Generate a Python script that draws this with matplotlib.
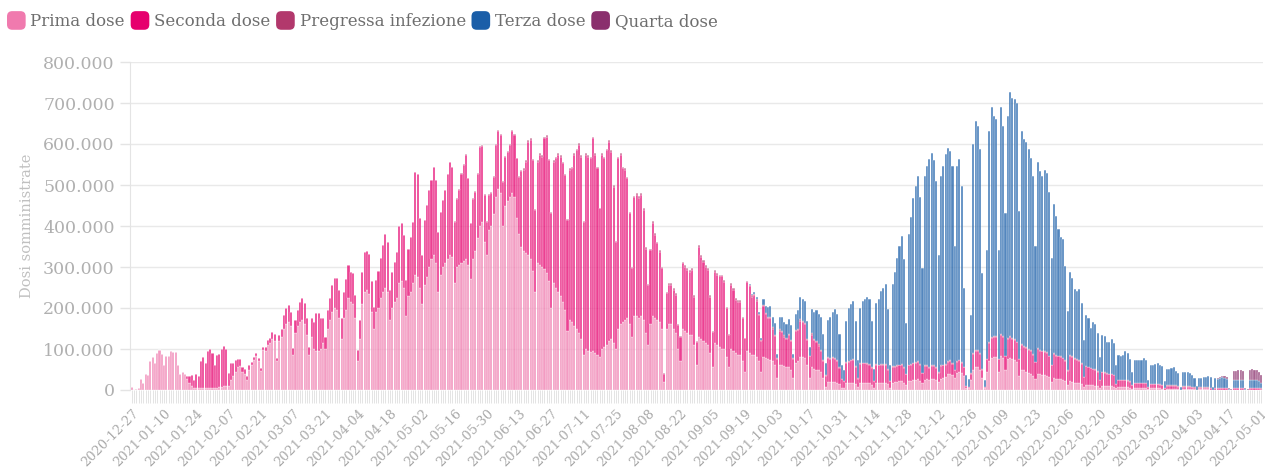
import datetime as dt

import matplotlib

matplotlib.use("Agg")

import matplotlib.pyplot as plt
import numpy as np
from matplotlib.legend_handler import HandlerPatch
from matplotlib.patches import FancyBboxPatch, Patch
from matplotlib.ticker import FuncFormatter, MultipleLocator

START_DATE = dt.date(2020, 12, 27)

# daily doses (thousands), one row per week, Sunday..Saturday
PRIMA_WEEKS = [
    [7, 1, 2, 5, 27, 16, 38], [37, 70, 81, 65, 90, 97, 88],
    [61, 83, 83, 95, 93, 92, 61], [38, 45, 38, 28, 18, 10, 6],
    [5, 4, 5, 6, 5, 6, 6], [5, 4, 6, 7, 8, 9, 9],
    [10, 25, 35, 45, 55, 58, 45], [40, 25, 50, 60, 72, 82, 70],
    [47, 97, 96, 110, 114, 125, 120], [70, 120, 130, 150, 160, 165, 155],
    [85, 140, 155, 165, 170, 160, 135], [85, 130, 100, 95, 95, 100, 115],
    [100, 150, 170, 190, 200, 195, 175], [125, 175, 195, 225, 215, 210, 175],
    [70, 125, 210, 240, 245, 235, 190], [150, 190, 200, 225, 240, 250, 240],
    [170, 200, 215, 225, 260, 265, 250], [180, 230, 240, 260, 280, 275, 250],
    [210, 255, 275, 300, 320, 330, 310], [240, 280, 300, 310, 320, 330, 325],
    [260, 300, 305, 310, 315, 320, 305], [270, 320, 340, 370, 400, 410, 360],
    [330, 390, 400, 430, 470, 490, 480], [400, 450, 460, 470, 480, 470, 420],
    [380, 350, 340, 335, 330, 320, 290], [240, 310, 305, 300, 295, 285, 265],
    [200, 260, 250, 240, 230, 215, 195], [145, 170, 165, 155, 150, 140, 125],
    [85, 100, 95, 92, 95, 90, 85], [80, 100, 105, 110, 120, 125, 115],
    [100, 150, 160, 165, 170, 175, 160], [130, 180, 180, 175, 180, 170, 140],
    [110, 160, 180, 175, 170, 165, 150], [20, 150, 160, 160, 150, 140, 100],
    [70, 150, 145, 140, 135, 135, 110], [60, 130, 125, 120, 115, 110, 90],
    [55, 115, 110, 105, 100, 100, 80], [55, 100, 95, 90, 85, 85, 70],
    [45, 95, 90, 85, 85, 80, 70], [45, 80, 78, 75, 72, 70, 60],
    [30, 62, 60, 58, 57, 57, 50], [30, 65, 70, 80, 80, 78, 60],
    [30, 55, 52, 50, 48, 45, 30], [8, 20, 20, 20, 19, 18, 14],
    [6, 6, 17, 18, 18, 18, 14], [7, 17, 17, 17, 17, 16, 13],
    [6, 17, 17, 18, 18, 18, 14], [6, 18, 19, 20, 21, 22, 18],
    [12, 22, 23, 24, 25, 26, 22], [16, 25, 26, 24, 27, 27, 24],
    [20, 28, 30, 32, 38, 40, 36], [30, 42, 45, 42, 35, 6, 5],
    [25, 50, 55, 55, 50, 30, 4], [45, 70, 78, 80, 80, 45, 82],
    [78, 50, 75, 78, 75, 72, 68], [35, 50, 48, 45, 42, 40, 35],
    [28, 40, 38, 37, 36, 35, 32], [20, 30, 28, 27, 26, 25, 22],
    [12, 22, 20, 18, 17, 16, 14], [7, 13, 12, 11, 11, 10, 9],
    [5, 10, 10, 9, 9, 9, 8], [4, 7, 7, 7, 7, 7, 6],
    [3, 5, 5, 5, 5, 5, 5], [2, 4, 4, 4, 4, 4, 3],
    [1, 3, 3, 3, 3, 3, 2], [0, 2, 2, 2, 2, 2, 2],
    [0, 2, 2, 2, 2, 2, 1], [0, 1, 1, 1, 1, 1, 1],
    [0, 0, 1, 1, 1, 1, 1], [0, 0, 1, 1, 1, 1, 1],
    [1],
]

SECONDA_WEEKS = [
    [0, 0, 0, 0, 0, 0, 0], [0, 0, 0, 0, 0, 0, 0],
    [0, 0, 0, 0, 0, 0, 0], [0, 0, 2, 7, 15, 27, 18],
    [33, 29, 65, 75, 60, 90, 93], [86, 57, 79, 80, 92, 99, 92],
    [32, 40, 32, 28, 21, 17, 12], [11, 8, 11, 9, 9, 9, 7],
    [6, 9, 10, 12, 14, 16, 16], [7, 14, 20, 33, 39, 42, 36],
    [17, 31, 40, 50, 54, 51, 40], [21, 45, 67, 92, 92, 75, 60],
    [30, 45, 54, 66, 72, 77, 69], [50, 65, 75, 81, 74, 75, 57],
    [28, 46, 79, 97, 94, 96, 75], [53, 78, 90, 98, 114, 130, 122],
    [74, 89, 98, 112, 141, 142, 128], [88, 115, 134, 150, 251, 253, 169],
    [119, 160, 176, 188, 192, 215, 202], [146, 155, 163, 178, 208, 225, 220],
    [150, 167, 183, 218, 235, 253, 211], [137, 147, 144, 158, 193, 186, 115],
    [80, 85, 80, 90, 128, 142, 142], [108, 119, 121, 128, 152, 152, 145],
    [140, 183, 197, 222, 276, 290, 271], [199, 247, 268, 269, 319, 333, 296],
    [231, 297, 315, 333, 339, 338, 329], [270, 367, 376, 418, 435, 458, 444],
    [325, 473, 474, 473, 519, 483, 456], [363, 473, 460, 475, 486, 456, 381],
    [262, 415, 413, 376, 367, 341, 271], [167, 290, 296, 293, 296, 270, 205],
    [146, 181, 227, 203, 188, 172, 147], [20, 86, 96, 96, 94, 92, 59],
    [60, 159, 155, 153, 154, 158, 118], [58, 220, 200, 193, 185, 183, 138],
    [87, 174, 171, 172, 177, 164, 119], [79, 156, 149, 130, 130, 130, 105],
    [81, 169, 164, 143, 146, 138, 112], [75, 125, 107, 101, 103, 80, 72],
    [45, 83, 82, 72, 67, 76, 70], [45, 78, 76, 89, 85, 82, 62],
    [52, 80, 70, 66, 60, 50, 40], [27, 57, 55, 57, 56, 53, 40],
    [20, 15, 50, 51, 54, 55, 43], [21, 47, 48, 48, 47, 46, 40],
    [15, 44, 43, 44, 43, 43, 35], [15, 38, 38, 39, 39, 40, 36],
    [26, 38, 38, 41, 42, 43, 40], [25, 33, 33, 30, 32, 32, 30],
    [22, 30, 30, 30, 30, 30, 27], [18, 26, 27, 25, 20, 4, 3],
    [15, 38, 40, 40, 38, 20, 3], [30, 45, 50, 50, 50, 30, 52],
    [52, 32, 50, 52, 50, 50, 48], [40, 60, 58, 57, 56, 55, 50],
    [40, 60, 58, 57, 56, 55, 50], [40, 58, 56, 55, 54, 52, 48],
    [35, 62, 60, 58, 56, 55, 50], [25, 45, 44, 42, 40, 40, 36],
    [20, 33, 32, 31, 30, 30, 28], [10, 17, 17, 17, 17, 16, 14],
    [8, 12, 12, 12, 12, 12, 11], [5, 10, 10, 10, 10, 9, 9],
    [4, 7, 7, 7, 7, 7, 6], [1, 6, 6, 6, 6, 5, 4],
    [1, 4, 4, 4, 4, 4, 4], [1, 4, 4, 4, 4, 4, 4],
    [1, 0, 3, 3, 3, 3, 3], [1, 0, 3, 3, 3, 3, 3],
    [2],
]

PREGRESSA_FROM_WEEK = 20
PREGRESSA_WEEKS = [
    [1, 2, 2, 2, 2, 2, 2], [1, 2, 2, 2, 2, 2, 2],
    [1, 2, 2, 2, 2, 2, 2], [1, 2, 2, 2, 2, 2, 2],
    [2, 4, 4, 4, 4, 4, 3], [2, 4, 4, 4, 4, 4, 3],
    [2, 4, 4, 4, 4, 4, 3], [2, 4, 4, 4, 4, 4, 3],
    [2, 4, 4, 4, 4, 4, 3], [2, 4, 4, 4, 4, 4, 3],
    [2, 4, 4, 4, 4, 4, 3], [2, 4, 4, 4, 4, 4, 3],
    [2, 4, 4, 4, 4, 4, 3], [1, 4, 4, 4, 4, 4, 3],
    [2, 4, 4, 4, 4, 4, 3], [2, 4, 4, 4, 4, 4, 3],
    [2, 4, 4, 4, 4, 4, 3], [2, 4, 4, 4, 4, 4, 3],
    [2, 3, 3, 3, 3, 3, 3], [2, 3, 3, 3, 3, 3, 3],
    [2, 3, 3, 3, 3, 3, 3], [2, 3, 3, 3, 3, 3, 2],
    [2, 3, 3, 3, 3, 3, 2], [1, 3, 3, 3, 3, 3, 2],
    [1, 1, 2, 2, 2, 2, 2], [1, 2, 2, 2, 2, 2, 2],
    [1, 2, 2, 2, 2, 2, 2], [1, 2, 2, 2, 2, 2, 2],
    [1, 2, 2, 2, 2, 2, 2], [1, 2, 2, 2, 2, 2, 2],
    [1, 2, 2, 2, 2, 2, 2], [1, 2, 2, 2, 1, 0, 0],
    [1, 2, 2, 2, 2, 1, 0], [1, 2, 2, 2, 2, 1, 2],
    [2, 1, 2, 2, 2, 2, 2], [1, 2, 2, 2, 2, 2, 2],
    [1, 2, 2, 2, 2, 2, 2], [1, 2, 2, 2, 2, 2, 2],
    [1, 2, 2, 2, 2, 2, 2], [0, 1, 1, 1, 1, 1, 1],
    [0, 1, 1, 1, 1, 1, 1], [0, 1, 1, 1, 1, 1, 1],
    [0, 1, 1, 1, 1, 1, 1], [0, 1, 1, 1, 1, 1, 1],
    [0, 1, 1, 1, 1, 1, 1], [0, 1, 1, 1, 1, 1, 1],
    [0, 1, 1, 1, 1, 1, 1], [0, 1, 1, 1, 1, 1, 1],
    [0, 0, 1, 1, 1, 1, 1], [0, 0, 1, 1, 1, 1, 1],
    [1],
]

TERZA_FROM_WEEK = 38
TERZA_WEEKS = [
    [0, 0, 2, 4, 5, 6, 5], [6, 15, 18, 23, 28, 25, 28],
    [10, 30, 33, 33, 35, 38, 35], [10, 40, 45, 55, 55, 55, 45],
    [20, 60, 65, 75, 75, 80, 64], [30, 90, 100, 110, 120, 112, 80],
    [35, 28, 100, 130, 135, 142, 110], [45, 135, 150, 155, 160, 158, 114],
    [29, 150, 160, 178, 187, 195, 146], [40, 200, 228, 262, 290, 312, 263],
    [125, 318, 358, 402, 429, 451, 406], [256, 462, 486, 507, 518, 501, 454],
    [287, 462, 485, 511, 521, 511, 482], [302, 477, 489, 429, 193, 27, 20],
    [143, 510, 559, 547, 497, 235, 17], [266, 515, 561, 537, 530, 266, 555],
    [512, 348, 542, 596, 586, 585, 583], [360, 520, 504, 500, 487, 470, 435],
    [282, 453, 437, 426, 442, 438, 398], [261, 363, 339, 308, 290, 289, 230],
    [144, 201, 192, 168, 167, 173, 146], [90, 125, 119, 98, 115, 110, 94],
    [55, 91, 88, 77, 78, 85, 78], [47, 61, 59, 61, 69, 67, 55],
    [33, 56, 54, 54, 56, 61, 57], [17, 47, 47, 48, 52, 47, 46],
    [17, 41, 40, 42, 46, 35, 32], [6, 36, 34, 34, 32, 29, 23],
    [9, 23, 23, 24, 25, 26, 25], [7, 23, 22, 23, 26, 23, 21],
    [1, 1, 19, 19, 20, 20, 19], [2, 1, 20, 20, 20, 19, 18],
    [14],
]

QUARTA_FROM_WEEK = 67
QUARTA_WEEKS = [
    [0, 0, 1, 2, 3, 4, 4], [2, 1, 22, 23, 25, 25, 22],
    [3, 2, 24, 26, 25, 24, 22], [18],
]

SERIES_NAMES = ["Prima dose", "Seconda dose", "Pregressa infezione",
                "Terza dose", "Quarta dose"]
SERIES_COLORS = ["#f07aae", "#e6006e", "#b2386c", "#1a5ea8", "#8a2f6d"]


def daily(weeks, from_week=0):
    values = [v for week in weeks for v in week]
    return np.concatenate([np.zeros(7 * from_week), values]) * 1000


series = [
    daily(PRIMA_WEEKS),
    daily(SECONDA_WEEKS),
    daily(PREGRESSA_WEEKS, PREGRESSA_FROM_WEEK),
    daily(TERZA_WEEKS, TERZA_FROM_WEEK),
    daily(QUARTA_WEEKS, QUARTA_FROM_WEEK),
]
n_days = len(series[0])
days = np.arange(n_days)

plt.rcParams["font.family"] = "DejaVu Serif"

fig = plt.figure(figsize=(12.65, 4.68), dpi=100)
ax = fig.add_axes([130 / 1265, 78 / 468, 1133 / 1265, 328 / 468])

bottom = np.zeros(n_days)
for values, color in zip(series, SERIES_COLORS):
    rgba = matplotlib.colors.to_rgba(color, 0.75)
    ax.bar(days, values, bottom=bottom, width=0.9, color=rgba,
           edgecolor="white", linewidth=0.2, zorder=3)
    bottom += values

ax.set_xlim(-0.8, n_days - 0.3)
ax.set_ylim(0, 800000)

ax.yaxis.set_major_locator(MultipleLocator(100000))
ax.yaxis.set_major_formatter(
    FuncFormatter(lambda v, _: f"{int(v):,}".replace(",", "."))
)
ax.grid(axis="y", color="#e9e9e9", linewidth=1.0, zorder=0)

tick_days = np.arange(0, n_days, 14)
ax.set_xticks(tick_days)
ax.set_xticklabels(
    [(START_DATE + dt.timedelta(days=int(d))).isoformat() for d in tick_days],
    rotation=45, ha="right", rotation_mode="anchor",
)
ax.set_xticks(days, minor=True)
ax.tick_params(axis="x", which="both", length=9, width=0.7,
               color="#e4e4e4", labelcolor="#a8a8a8", labelsize=9.3, pad=3)
ax.tick_params(axis="y", length=7, width=1.0, color="#e4e4e4",
               labelcolor="#b0b0b0", labelsize=12.5, pad=4)

for side in ("top", "right", "bottom"):
    ax.spines[side].set_visible(False)
ax.spines["left"].set_color("#e4e4e4")

ax.set_ylabel("Dosi somministrate", color="#c0c0c0", fontsize=10.5)
ax.yaxis.set_label_coords(-0.085, 0.5)


def rounded_swatch(legend, orig_handle, xdescent, ydescent, width, height,
                   fontsize):
    side = height * 1.25
    return FancyBboxPatch(
        (-xdescent + (width - side) / 2, -ydescent + (height - side) / 2),
        side, side, boxstyle=f"round,pad=0,rounding_size={side * 0.28}",
    )


handles = [Patch(facecolor=c, edgecolor="none") for c in SERIES_COLORS]
fig.legend(
    handles, SERIES_NAMES, loc="upper left",
    bbox_to_anchor=(8 / 1265, 1 - 13 / 468), ncol=5, frameon=False,
    fontsize=12, labelcolor="#6e6e6e", handlelength=1.0,
    handleheight=1.0, handletextpad=0.35, columnspacing=0.4,
    borderpad=0, borderaxespad=0,
    handler_map={Patch: HandlerPatch(patch_func=rounded_swatch)},
)

fig.savefig("out.png", dpi=100)
